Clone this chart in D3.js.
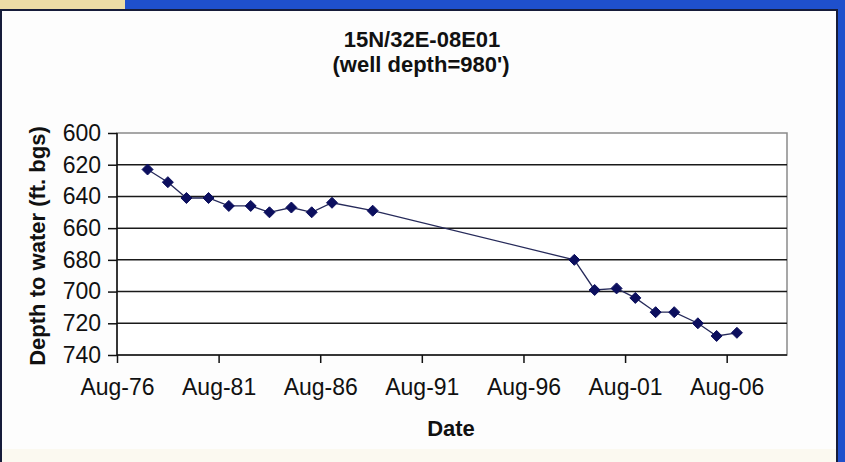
<!DOCTYPE html>
<head>
  <meta charset="utf-8">
  <style>
    body { margin: 0; background: #ffffff; }
    text { font-family: "Liberation Sans", Arial, sans-serif; fill: #111; }
  </style>
</head>
<body>
  <div id="chart"></div>
  <script src="https://d3js.org/d3.v7.min.js"></script>
  <script>
    // well 15N/32E-08E01, depth to water readings
    var dates = ["1978-02", "1979-02", "1980-01", "1981-02", "1982-02", "1983-03", "1984-02",
                 "1985-03", "1986-03", "1987-03", "1989-03", "1999-02", "2000-02", "2001-03",
                 "2002-02", "2003-02", "2004-01", "2005-03", "2006-02", "2007-02"];
    var depths = [623, 631, 641, 641, 646, 646, 650, 647, 650, 644, 649,
                  680, 699, 698, 704, 713, 713, 720, 728, 726];
    var yTicks = [600, 620, 640, 660, 680, 700, 720, 740];
    var xTickDates = ["1976-08", "1981-08", "1986-08", "1991-08", "1996-08", "2001-08", "2006-08"];

    var width = 845, height = 462;
    var parse = d3.timeParse("%Y-%m");
    var data = dates.map(function(d, i) { return { date: parse(d), depth: depths[i] }; });

    var svg = d3.select("#chart").append("svg")
      .attr("width", width)
      .attr("height", height);

    // window frame bits round the chart
    svg.append("rect").attr("x", 0).attr("y", 0).attr("width", width).attr("height", height).attr("fill", "#1f50cc");
    svg.append("rect").attr("x", 0).attr("y", 0).attr("width", 125).attr("height", 10).attr("fill", "#ecdca6");
    svg.append("rect").attr("x", 0).attr("y", 9).attr("width", 838).attr("height", height - 9).attr("fill", "#161c3a");
    svg.append("rect").attr("x", 2).attr("y", 11).attr("width", 834).attr("height", 438).attr("fill", "#fdfdfd");
    svg.append("rect").attr("x", 2).attr("y", 449).attr("width", 834).attr("height", 13).attr("fill", "#fbf9f0");

    var plotLeft = 117, plotRight = 787, plotTop = 133, plotBottom = 355;

    var x = d3.scaleTime()
      .domain([parse("1976-08"), new Date(2009, 6, 20)])
      .range([plotLeft, plotRight]);

    var y = d3.scaleLinear()
      .domain([600, 740])
      .range([plotTop, plotBottom]);

    // plot area
    svg.append("rect")
      .attr("x", plotLeft).attr("y", plotTop)
      .attr("width", plotRight - plotLeft).attr("height", plotBottom - plotTop)
      .attr("fill", "#ffffff")
      .attr("stroke", "#8a8a8a")
      .attr("stroke-width", 1.5);

    // gridlines
    svg.append("g")
      .selectAll("line")
      .data(yTicks.filter(function(d) { return d != 600 && d != 740; }))
      .enter().append("line")
        .attr("x1", plotLeft).attr("x2", plotRight)
        .attr("y1", function(d) { return y(d); })
        .attr("y2", function(d) { return y(d); })
        .attr("stroke", "#1a1a1a")
        .attr("stroke-width", 1.5);

    var xAxis = svg.append("g")
      .attr("transform", "translate(0," + plotBottom + ")")
      .call(d3.axisBottom(x)
        .tickValues(xTickDates.map(parse))
        .tickFormat(d3.timeFormat("%b-%y"))
        .tickSize(8)
        .tickPadding(16));

    var yAxis = svg.append("g")
      .attr("transform", "translate(" + plotLeft + ",0)")
      .call(d3.axisLeft(y)
        .tickValues(yTicks)
        .tickSize(9)
        .tickPadding(7));

    [xAxis, yAxis].forEach(function(ax) {
      ax.select(".domain").attr("stroke", "#111").attr("stroke-width", 1.5);
      ax.selectAll(".tick line").attr("stroke", "#111").attr("stroke-width", 1.5);
      ax.selectAll("text")
        .attr("font-family", "Liberation Sans, Arial, sans-serif")
        .attr("fill", "#151515")
        .style("font-size", "23px");
    });
    xAxis.select(".domain").attr("d", "M" + plotLeft + ",0H" + plotRight);
    yAxis.select(".domain").attr("d", "M0," + plotTop + "V" + plotBottom);

    // series line
    var line = d3.line()
      .x(function(d) { return x(d.date); })
      .y(function(d) { return y(d.depth); });

    svg.append("path")
      .datum(data)
      .attr("d", line)
      .attr("fill", "none")
      .attr("stroke", "#262a5a")
      .attr("stroke-width", 1.3);

    svg.append("g")
      .selectAll("path")
      .data(data)
      .enter().append("path")
        .attr("d", "M0,-5.5L5.5,0L0,5.5L-5.5,0Z")
        .attr("transform", function(d) { return "translate(" + x(d.date) + "," + y(d.depth) + ")"; })
        .attr("fill", "#0c0f5e")
        .attr("stroke", "#0c0f5e")
        .attr("stroke-width", 1);

    // titles
    svg.append("text").text("15N/32E-08E01")
      .attr("x", 422).attr("y", 47)
      .attr("text-anchor", "middle")
      .attr("font-weight", "bold")
      .style("font-size", "22px");

    svg.append("text").text("(well depth=980')")
      .attr("x", 421).attr("y", 72)
      .attr("text-anchor", "middle")
      .attr("font-weight", "bold")
      .style("font-size", "22px");

    svg.append("text").text("Date")
      .attr("x", 451).attr("y", 436)
      .attr("text-anchor", "middle")
      .attr("font-weight", "bold")
      .style("font-size", "22px");

    svg.append("text").text("Depth to water (ft. bgs)")
      .attr("transform", "translate(45,246) rotate(-90)")
      .attr("text-anchor", "middle")
      .attr("font-weight", "bold")
      .style("font-size", "22px");
  </script>
</body>
